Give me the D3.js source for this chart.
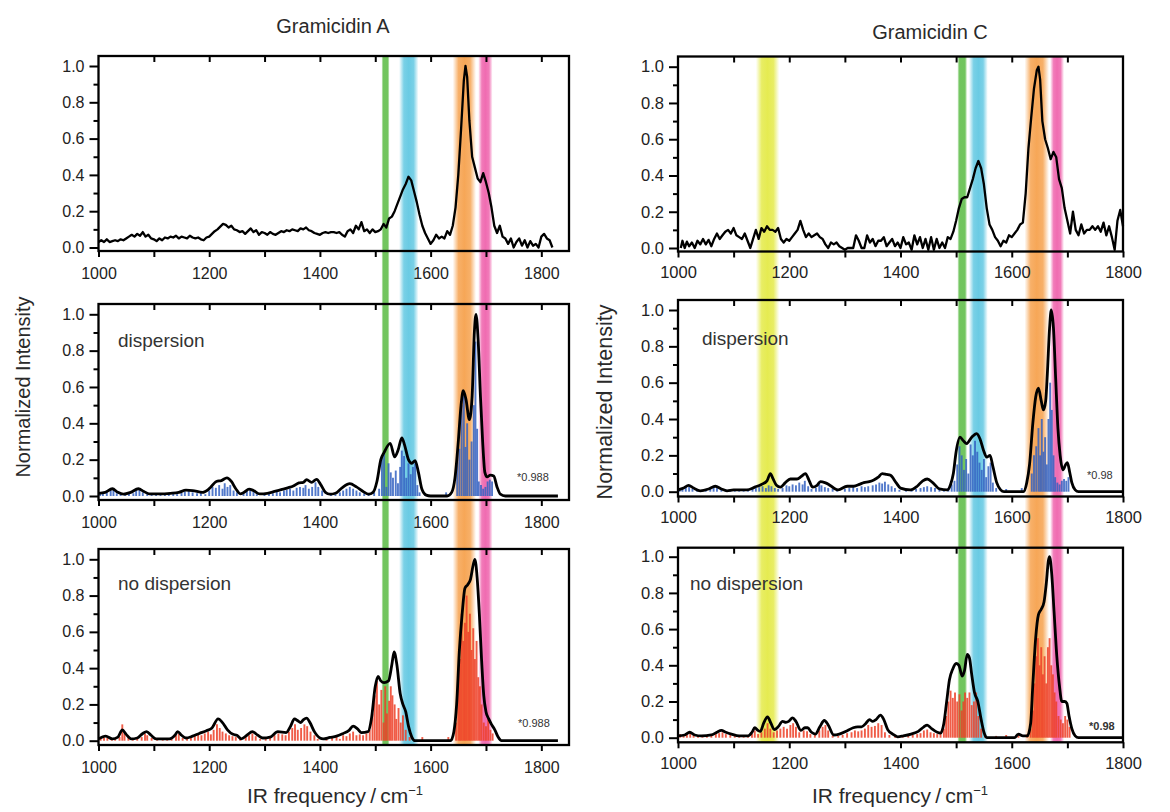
<!DOCTYPE html>
<html><head><meta charset="utf-8">
<script src="https://cdn.jsdelivr.net/npm/d3@7"></script>
<style>
body{margin:0;background:#fff}
svg{display:block}
text{font-family:"Liberation Sans",Arial,Helvetica,sans-serif}
</style>
</head><body>
<svg id="c" width="1170" height="812"></svg>
<script>
// ---------------- DATA ----------------
const titles = ["Gramicidin A", "Gramicidin C"];
const yTickValues = [0, 0.2, 0.4, 0.6, 0.8, 1.0];
const yMinorValues = [0.1, 0.3, 0.5, 0.7, 0.9];
const xTickValues = [1000, 1100, 1200, 1300, 1400, 1500, 1600, 1700, 1800];
const xLabelValues = [1000, 1200, 1400, 1600, 1800];
const panelLabels = ["", "dispersion", "no dispersion"];
const scaleNotesA = ["", "*0.988", "*0.988"];
const scaleNotesC = ["", "*0.98", "*0.98"];

// highlighted bands [from, to] in cm-1
const bandsA = [["green",1512,1525],["cyan",1543,1578],["orange",1640,1682],["pink",1686,1712]];
const bandsC = [["yellow",1140,1182],["green",1503,1519],["cyan",1523,1557],["orange",1623,1667],["pink",1669,1694]];

// Experimental spectrum, Gramicidin A
const expA = [[1000,.03],[1005,.04],[1010,.03],[1015,.045],[1020,.03],[1025,.035],[1030,.04],[1035,.035],[1040,.045],[1045,.04],[1050,.05],[1055,.06],[1060,.07],[1065,.06],[1070,.075],[1075,.065],[1080,.085],[1085,.06],[1090,.07],[1095,.05],[1100,.045],[1105,.035],[1110,.05],[1115,.04],[1120,.055],[1125,.05],[1130,.06],[1135,.055],[1140,.065],[1145,.05],[1150,.06],[1155,.055],[1160,.05],[1165,.065],[1170,.055],[1175,.05],[1180,.055],[1185,.045],[1190,.04],[1195,.055],[1200,.06],[1205,.075],[1210,.09],[1215,.1],[1220,.115],[1225,.13],[1230,.125],[1235,.11],[1240,.12],[1245,.1],[1250,.095],[1255,.085],[1260,.09],[1265,.075],[1270,.09],[1275,.105],[1280,.085],[1285,.095],[1290,.07],[1295,.085],[1300,.08],[1305,.07],[1310,.085],[1315,.075],[1320,.07],[1325,.08],[1330,.09],[1335,.085],[1340,.095],[1345,.09],[1350,.1],[1355,.095],[1360,.09],[1365,.105],[1370,.1],[1375,.11],[1380,.095],[1385,.09],[1390,.08],[1395,.075],[1400,.07],[1405,.08],[1410,.085],[1415,.08],[1420,.085],[1425,.085],[1430,.08],[1435,.085],[1440,.07],[1445,.06],[1450,.09],[1455,.1],[1460,.08],[1465,.12],[1470,.1],[1475,.14],[1480,.09],[1485,.1],[1490,.08],[1495,.1],[1500,.085],[1505,.09],[1510,.1],[1515,.13],[1520,.11],[1525,.16],[1530,.17],[1535,.2],[1540,.24],[1545,.28],[1550,.32],[1555,.35],[1560,.39],[1565,.37],[1570,.31],[1575,.25],[1580,.18],[1585,.12],[1590,.08],[1595,.05],[1600,.02],[1605,.04],[1610,.07],[1615,.05],[1620,.06],[1625,.05],[1630,.09],[1635,.07],[1640,.12],[1645,.22],[1650,.4],[1655,.65],[1660,.92],[1663,1.0],[1666,.94],[1670,.7],[1675,.5],[1680,.44],[1685,.38],[1690,.36],[1695,.41],[1700,.36],[1705,.3],[1710,.22],[1715,.12],[1720,.08],[1725,.12],[1730,.06],[1735,.05],[1740,.02],[1745,.05],[1750,0],[1755,.03],[1760,.05],[1765,.01],[1770,.04],[1775,0],[1780,.035],[1785,.01],[1790,.02],[1795,0],[1800,.06],[1805,.075],[1810,.05],[1815,.04],[1820,0]];

// Computed spectrum with dispersion, Gramicidin A
const dispA = [[1000,.015],[1012,.02],[1025,.04],[1035,.02],[1045,.01],[1058,.02],[1072,.04],[1082,.025],[1092,.012],[1110,.012],[1130,.015],[1145,.02],[1158,.032],[1170,.03],[1188,.02],[1200,.04],[1213,.08],[1222,.085],[1232,.1],[1240,.08],[1248,.04],[1256,.012],[1263,.02],[1272,.038],[1280,.03],[1291,.012],[1305,.015],[1318,.025],[1330,.035],[1342,.045],[1352,.055],[1362,.072],[1370,.075],[1376,.09],[1385,.075],[1394,.092],[1402,.06],[1410,.02],[1418,.01],[1428,.015],[1440,.045],[1454,.068],[1466,.05],[1478,.025],[1488,.01],[1496,.02],[1503,.08],[1510,.2],[1516,.24],[1527,.29],[1535,.215],[1541,.25],[1548,.32],[1553,.28],[1560,.2],[1566,.18],[1572,.195],[1578,.13],[1584,.04],[1592,.005],[1600,0],[1630,0],[1638,.02],[1644,.1],[1650,.3],[1655,.5],[1659,.58],[1664,.53],[1670,.42],[1675,.55],[1679,.9],[1682,1.0],[1686,.85],[1690,.55],[1694,.3],[1698,.13],[1702,.105],[1708,.115],[1714,.11],[1720,.05],[1726,.01],[1735,0],[1830,0]];
const sticksDispA = [[1003,.02],[1008,.015],[1015,.02],[1022,.03],[1027,.035],[1033,.015],[1040,.01],[1048,.015],[1055,.02],[1063,.015],[1068,.03],[1074,.035],[1080,.02],[1088,.01],[1096,.012],[1104,.01],[1112,.015],[1120,.01],[1127,.012],[1135,.015],[1142,.01],[1150,.018],[1156,.025],[1163,.03],[1170,.02],[1178,.015],[1185,.02],[1193,.01],[1200,.03],[1206,.05],[1212,.045],[1218,.06],[1224,.04],[1228,.07],[1233,.05],[1238,.06],[1244,.03],[1250,.02],[1262,.02],[1268,.03],[1274,.035],[1280,.025],[1286,.01],[1300,.015],[1308,.02],[1315,.015],[1322,.025],[1328,.02],[1335,.03],[1340,.035],[1346,.04],[1352,.03],[1358,.045],[1364,.05],[1370,.045],[1374,.06],[1380,.04],[1386,.05],[1392,.075],[1397,.05],[1404,.03],[1420,.015],[1428,.01],[1436,.02],[1442,.03],[1448,.04],[1454,.05],[1460,.04],[1466,.03],[1472,.02],[1480,.015],[1488,.01],[1498,.02],[1507,.04],[1512,.22],[1516,.24],[1520,.05],[1524,.18],[1528,.13],[1532,.1],[1537,.14],[1541,.07],[1545,.16],[1548,.25],[1552,.22],[1556,.1],[1560,.18],[1564,.12],[1568,.16],[1572,.18],[1576,.06],[1580,.02],[1590,.015],[1628,.02],[1648,.2],[1652,.26],[1656,.5],[1660,.55],[1663,.27],[1666,.4],[1670,.2],[1674,.3],[1678,.5],[1681,.85],[1684,.37],[1687,.08],[1691,.06],[1695,.04],[1699,.05],[1703,.08],[1707,.09],[1711,.08]];

// Computed spectrum without dispersion, Gramicidin A
const noDispA = [[1000,.01],[1013,.025],[1025,.01],[1035,.02],[1043,.06],[1050,.035],[1059,.01],[1070,.015],[1080,.04],[1087,.05],[1095,.03],[1104,.01],[1128,.01],[1138,.03],[1143,.05],[1150,.03],[1158,.015],[1170,.025],[1182,.04],[1195,.055],[1205,.07],[1216,.12],[1224,.1],[1233,.06],[1243,.035],[1250,.03],[1258,.01],[1268,.03],[1278,.05],[1288,.03],[1297,.015],[1310,.02],[1324,.05],[1339,.045],[1347,.08],[1354,.12],[1360,.11],[1365,.1],[1370,.115],[1376,.125],[1382,.1],[1390,.05],[1400,.015],[1406,.01],[1418,.018],[1430,.025],[1442,.04],[1452,.055],[1460,.08],[1468,.065],[1475,.045],[1487,.05],[1493,.12],[1500,.3],[1505,.355],[1510,.33],[1516,.32],[1524,.33],[1530,.42],[1534,.49],[1539,.42],[1545,.26],[1550,.2],[1555,.16],[1560,.08],[1566,.02],[1572,0],[1636,0],[1642,.05],[1647,.2],[1652,.5],[1657,.7],[1662,.84],[1667,.86],[1672,.89],[1677,.97],[1680,1.0],[1684,.9],[1688,.7],[1692,.45],[1696,.25],[1700,.16],[1705,.12],[1710,.09],[1716,.06],[1722,.02],[1728,0],[1830,0]];
const sticksNoDispA = [[1004,.02],[1010,.015],[1016,.025],[1024,.01],[1030,.015],[1038,.02],[1043,.09],[1047,.04],[1054,.02],[1062,.01],[1070,.015],[1078,.02],[1084,.04],[1088,.03],[1096,.015],[1106,.01],[1116,.012],[1124,.01],[1132,.015],[1140,.03],[1145,.04],[1152,.015],[1160,.02],[1167,.025],[1174,.03],[1180,.035],[1186,.03],[1192,.04],[1198,.05],[1203,.035],[1208,.06],[1214,.09],[1219,.07],[1224,.05],[1230,.04],[1236,.03],[1242,.025],[1248,.02],[1256,.01],[1266,.02],[1272,.03],[1278,.04],[1284,.025],[1292,.01],[1302,.015],[1310,.02],[1318,.03],[1325,.04],[1332,.035],[1338,.03],[1344,.05],[1350,.07],[1355,.09],[1360,.06],[1366,.07],[1372,.09],[1377,.08],[1383,.05],[1390,.03],[1396,.01],[1412,.01],[1422,.015],[1430,.02],[1436,.01],[1442,.03],[1448,.025],[1454,.04],[1460,.05],[1466,.03],[1472,.035],[1478,.03],[1484,.04],[1490,.06],[1495,.15],[1499,.25],[1503,.33],[1507,.2],[1511,.28],[1515,.1],[1518,.3],[1521,.15],[1525,.22],[1528,.3],[1531,.25],[1535,.2],[1538,.12],[1542,.18],[1546,.1],[1550,.14],[1555,.06],[1562,.02],[1585,.02],[1632,.02],[1646,.1],[1650,.3],[1653,.45],[1656,.7],[1659,.55],[1662,.65],[1665,.8],[1668,.6],[1671,.7],[1674,.5],[1677,.62],[1680,.45],[1683,.55],[1686,.35],[1689,.3],[1692,.2],[1696,.1],[1700,.08],[1704,.12],[1708,.06],[1712,.04]];

// Experimental spectrum, Gramicidin C
const expC = [[1005,0],[1008,.04],[1012,0],[1016,.035],[1020,.01],[1025,.03],[1030,0],[1035,.04],[1040,.02],[1045,.05],[1050,.02],[1055,.045],[1060,.01],[1065,.05],[1070,.08],[1075,.05],[1080,.07],[1085,.09],[1090,.1],[1095,.08],[1100,.11],[1105,.07],[1110,.06],[1115,.05],[1120,.08],[1125,.04],[1130,0],[1135,.05],[1140,.1],[1145,.05],[1150,.11],[1155,.09],[1160,.12],[1165,.1],[1170,.1],[1175,.09],[1180,.11],[1185,.05],[1190,.03],[1195,.05],[1200,.04],[1205,.06],[1210,.08],[1215,.1],[1220,.15],[1225,.1],[1230,.06],[1235,.08],[1240,.06],[1245,.07],[1250,.08],[1255,.06],[1260,.05],[1265,.02],[1270,0],[1275,.03],[1280,.02],[1285,.03],[1290,.01],[1295,0],[1300,-.01],[1305,0],[1310,0],[1315,0],[1320,.07],[1325,.04],[1330,0],[1335,0],[1340,.07],[1345,.03],[1350,.05],[1355,.01],[1360,.04],[1365,.04],[1370,.06],[1375,.01],[1380,.03],[1385,.05],[1390,.01],[1395,.03],[1400,0],[1405,.06],[1410,.02],[1415,.03],[1420,-.01],[1425,.07],[1430,.02],[1435,.06],[1440,0],[1445,.05],[1450,-.01],[1455,.06],[1460,-.01],[1465,.05],[1470,0],[1475,.03],[1480,0],[1485,.06],[1490,.05],[1495,.09],[1500,.15],[1505,.22],[1510,.27],[1515,.28],[1520,.28],[1525,.33],[1530,.38],[1535,.44],[1540,.48],[1545,.44],[1550,.35],[1555,.22],[1560,.13],[1565,.1],[1570,.06],[1575,.04],[1580,.01],[1585,.04],[1590,.03],[1595,.07],[1600,.06],[1605,.08],[1610,.1],[1615,.13],[1620,.14],[1625,.3],[1630,.55],[1635,.72],[1640,.88],[1645,.98],[1648,1.0],[1651,.93],[1655,.7],[1660,.6],[1665,.55],[1670,.49],[1675,.53],[1680,.5],[1685,.38],[1690,.33],[1695,.22],[1700,.15],[1705,.08],[1710,.2],[1715,.1],[1720,.07],[1725,.13],[1730,.08],[1735,.1],[1740,.1],[1745,.12],[1750,.1],[1755,.12],[1760,.09],[1765,.14],[1770,.07],[1775,.12],[1780,.06],[1785,-.01],[1790,.15],[1795,.21],[1800,.12]];

// Computed spectrum with dispersion, Gramicidin C
const dispC = [[1000,.01],[1010,.02],[1019,.035],[1028,.02],[1040,.005],[1055,.015],[1067,.03],[1078,.015],[1088,.005],[1100,.01],[1124,.01],[1138,.025],[1150,.04],[1160,.06],[1166,.1],[1171,.07],[1177,.035],[1184,.025],[1193,.05],[1202,.07],[1214,.07],[1222,.085],[1229,.1],[1236,.06],[1242,.025],[1250,.035],[1256,.055],[1264,.05],[1271,.04],[1280,.02],[1288,.01],[1304,.03],[1316,.03],[1326,.04],[1334,.05],[1344,.055],[1352,.065],[1360,.08],[1367,.1],[1375,.095],[1382,.09],[1392,.05],[1400,.02],[1418,.01],[1430,.03],[1440,.06],[1448,.07],[1458,.05],[1470,.015],[1484,.01],[1490,.04],[1495,.1],[1500,.22],[1507,.3],[1513,.28],[1519,.265],[1528,.3],[1537,.32],[1543,.29],[1549,.23],[1555,.19],[1561,.2],[1566,.14],[1573,.05],[1580,.01],[1586,0],[1621,0],[1627,.05],[1632,.15],[1638,.38],[1643,.52],[1648,.57],[1653,.5],[1657,.45],[1661,.5],[1664,.65],[1668,.9],[1671,1.0],[1675,.9],[1679,.62],[1683,.35],[1687,.2],[1692,.12],[1697,.15],[1700,.16],[1704,.11],[1708,.05],[1714,.01],[1720,0],[1800,0]];
const sticksDispC = [[1003,.01],[1008,.02],[1014,.025],[1020,.03],[1026,.015],[1034,.01],[1042,.005],[1050,.01],[1058,.015],[1064,.025],[1070,.02],[1078,.01],[1086,.012],[1094,.008],[1102,.01],[1110,.012],[1118,.008],[1126,.012],[1134,.015],[1140,.02],[1146,.025],[1152,.03],[1158,.02],[1163,.035],[1168,.03],[1174,.02],[1180,.015],[1188,.02],[1195,.035],[1200,.03],[1206,.04],[1212,.035],[1218,.05],[1224,.04],[1228,.06],[1234,.03],[1240,.015],[1248,.02],[1254,.04],[1258,.035],[1264,.025],[1270,.02],[1278,.015],[1286,.008],[1300,.015],[1308,.02],[1315,.025],[1322,.02],[1330,.03],[1336,.025],[1342,.03],[1350,.035],[1356,.04],[1362,.05],[1367,.045],[1372,.055],[1378,.04],[1384,.03],[1390,.02],[1398,.01],[1410,.008],[1420,.01],[1428,.015],[1436,.02],[1442,.025],[1448,.03],[1455,.025],[1462,.02],[1470,.012],[1478,.008],[1486,.02],[1492,.04],[1497,.06],[1502,.15],[1506,.25],[1510,.2],[1514,.12],[1518,.18],[1522,.1],[1526,.26],[1530,.2],[1534,.28],[1538,.22],[1542,.16],[1546,.12],[1550,.18],[1554,.08],[1558,.14],[1562,.16],[1566,.05],[1572,.02],[1590,.015],[1618,.02],[1636,.1],[1640,.2],[1644,.25],[1648,.35],[1651,.2],[1654,.4],[1657,.22],[1660,.3],[1663,.15],[1666,.4],[1669,.6],[1672,.45],[1675,.2],[1678,.08],[1682,.05],[1686,.04],[1690,.06],[1694,.07],[1698,.06],[1702,.08]];

// Computed spectrum without dispersion, Gramicidin C
const noDispC = [[1000,.01],[1012,.015],[1021,.03],[1030,.015],[1042,.01],[1060,.015],[1070,.03],[1078,.04],[1086,.03],[1096,.02],[1110,.01],[1126,.01],[1133,.03],[1138,.055],[1144,.04],[1148,.035],[1154,.08],[1161,.115],[1167,.08],[1173,.045],[1180,.06],[1188,.09],[1194,.085],[1199,.09],[1206,.11],[1212,.09],[1221,.04],[1228,.055],[1233,.055],[1240,.03],[1247,.02],[1255,.06],[1263,.095],[1270,.07],[1280,.015],[1290,.02],[1305,.04],[1315,.055],[1323,.06],[1330,.06],[1338,.08],[1344,.1],[1350,.09],[1356,.1],[1364,.125],[1370,.1],[1377,.045],[1386,.02],[1395,.005],[1405,.01],[1419,.02],[1432,.035],[1442,.06],[1448,.07],[1456,.05],[1466,.03],[1472,.025],[1478,.08],[1483,.2],[1488,.32],[1494,.38],[1500,.41],[1505,.4],[1511,.34],[1515,.37],[1520,.46],[1524,.44],[1528,.35],[1533,.25],[1539,.2],[1545,.1],[1550,.03],[1556,0],[1605,0],[1612,.02],[1620,.01],[1628,.01],[1634,.08],[1638,.3],[1643,.55],[1648,.68],[1653,.71],[1658,.75],[1662,.85],[1666,.98],[1668,1.0],[1672,.9],[1676,.7],[1681,.45],[1686,.28],[1690,.2],[1695,.2],[1699,.19],[1703,.12],[1708,.05],[1714,.01],[1720,0],[1800,0]];
const sticksNoDispC = [[1004,.02],[1010,.015],[1016,.02],[1022,.03],[1028,.015],[1036,.01],[1044,.012],[1052,.01],[1060,.015],[1068,.02],[1074,.025],[1080,.03],[1086,.02],[1094,.015],[1102,.01],[1110,.012],[1118,.01],[1126,.015],[1133,.02],[1138,.04],[1144,.02],[1150,.03],[1156,.05],[1161,.08],[1166,.05],[1172,.03],[1178,.04],[1184,.05],[1190,.06],[1196,.05],[1202,.07],[1207,.08],[1212,.06],[1218,.03],[1226,.04],[1232,.035],[1238,.02],[1246,.015],[1254,.04],[1260,.06],[1265,.07],[1270,.04],[1278,.012],[1288,.01],[1296,.015],[1304,.025],[1312,.03],[1318,.04],[1324,.035],[1330,.04],[1336,.05],[1342,.07],[1348,.06],[1354,.065],[1360,.08],[1366,.07],[1372,.03],[1380,.015],[1390,.008],[1404,.008],[1414,.012],[1422,.015],[1430,.02],[1436,.025],[1442,.04],[1448,.045],[1454,.03],[1460,.025],[1466,.02],[1472,.02],[1478,.05],[1482,.12],[1486,.2],[1490,.26],[1494,.22],[1498,.25],[1502,.2],[1506,.24],[1510,.15],[1513,.2],[1516,.25],[1520,.22],[1524,.25],[1528,.18],[1532,.2],[1536,.25],[1540,.12],[1545,.05],[1552,.02],[1572,.01],[1590,.015],[1612,.02],[1628,.02],[1634,.05],[1638,.15],[1641,.3],[1644,.45],[1647,.55],[1650,.4],[1653,.5],[1656,.35],[1659,.45],[1662,.3],[1665,.5],[1668,.55],[1671,.4],[1674,.35],[1677,.25],[1680,.2],[1684,.12],[1688,.1],[1692,.08],[1696,.12],[1700,.1],[1704,.06]];

// ---------------- STYLE / LAYOUT ----------------
const bandColors = {green:"#6ac256", cyan:"#62c8e2", orange:"#f6a24e", pink:"#ef64ad", yellow:"#e4ea48"};
const stickBlue = "#3462c2";
const stickRed = "#ee4028";

const columns = [
  { title: titles[0], titleX: 333, titleY: 33, xDomain: [1000,1850], xRange: [98.5,569], bands: bandsA,
    ylabX: 30, ylabY: 387, ylabSize: 20, xlabX: 335, xlabSize: 21, tickFont: 16, notes: scaleNotesA, noteBold: [false,false,false],
    panels: [
      { fTop: 56, fBot: 251, y0: 247.5, y1: 66, curve: expA, smooth: false, lw: 2.3, sticks: null },
      { fTop: 304, fBot: 500, y0: 496, y1: 314.3, curve: dispA, smooth: true, lw: 2.8, sticks: sticksDispA, stickColor: stickBlue, labelX: 118, labelY: 347, noteX: 517, noteY: 481 },
      { fTop: 549, fBot: 745, y0: 740.7, y1: 559.3, curve: noDispA, smooth: true, lw: 2.8, sticks: sticksNoDispA, stickColor: stickRed, labelX: 118, labelY: 590, noteX: 518, noteY: 727 }
    ] },
  { title: titles[1], titleX: 930, titleY: 39, xDomain: [1000,1800], xRange: [678,1123], bands: bandsC,
    ylabX: 612, ylabY: 402, ylabSize: 21.5, xlabX: 900, xlabSize: 21, tickFont: 16.5, notes: scaleNotesC, noteBold: [false,false,true],
    panels: [
      { fTop: 56.5, fBot: 251.5, y0: 248, y1: 66.7, curve: expC, smooth: false, lw: 2.3, sticks: null },
      { fTop: 300, fBot: 496.5, y0: 491.7, y1: 310, curve: dispC, smooth: true, lw: 2.8, sticks: sticksDispC, stickColor: stickBlue, labelX: 702, labelY: 345, noteX: 1087, noteY: 479 },
      { fTop: 547.7, fBot: 742.3, y0: 737.7, y1: 556.7, curve: noDispC, smooth: true, lw: 2.8, sticks: sticksNoDispC, stickColor: stickRed, labelX: 690, labelY: 590, noteX: 1089, noteY: 730 }
    ] }
];

// ---------------- DRAW ----------------
const svg = d3.select("#c");
svg.append("rect").attr("width",1170).attr("height",812).attr("fill","#fff");
const defs = svg.append("defs");
Object.entries(bandColors).forEach(([k,c]) => {
  const g = defs.append("linearGradient").attr("id","g-"+k);
  const stops = k === "green" ? [[0,.35],[0.2,.95],[0.8,.95],[1,.35]] : [[0,0],[0.25,.85],[0.5,.95],[0.75,.85],[1,0]];
  stops.forEach(([o,a]) => g.append("stop").attr("offset",o).attr("stop-color",c).attr("stop-opacity",a));
});

columns.forEach((col, ci) => {
  const x = d3.scaleLinear().domain(col.xDomain).range(col.xRange);
  const top = col.panels[0].fTop, bot = col.panels[2].fBot;

  svg.append("g").selectAll("rect").data(col.bands).join("rect")
    .attr("x", d => x(d[1])).attr("width", d => x(d[2]) - x(d[1]))
    .attr("y", top).attr("height", bot - top)
    .attr("fill", d => `url(#g-${d[0]})`);

  svg.append("text").attr("x", col.titleX).attr("y", col.titleY).attr("text-anchor","middle")
    .attr("font-size", 20).attr("fill","#2a2a2a").text(col.title);

  col.panels.forEach((p, pi) => {
    const y = d3.scaleLinear().domain([0,1]).range([p.y0, p.y1]);
    const g = svg.append("g");

    if (p.sticks) {
      g.append("g").selectAll("line").data(p.sticks).join("line")
        .attr("x1", d => x(d[0])).attr("x2", d => x(d[0]))
        .attr("y1", y(0)).attr("y2", d => y(d[1]))
        .attr("stroke", p.stickColor).attr("stroke-width", 1.9).attr("opacity", 0.85);
    }

    const line = d3.line().x(d => x(d[0])).y(d => y(d[1]))
      .curve(p.smooth ? d3.curveMonotoneX : d3.curveLinear);
    g.append("path").datum(p.curve).attr("d", line)
      .attr("fill","none").attr("stroke","#000").attr("stroke-width", p.lw)
      .attr("stroke-linejoin","round");

    g.append("rect").attr("x", col.xRange[0]).attr("y", p.fTop)
      .attr("width", col.xRange[1] - col.xRange[0]).attr("height", p.fBot - p.fTop)
      .attr("fill","none").attr("stroke","#000").attr("stroke-width", 2.3);

    const ya = g.append("g").attr("transform", `translate(${col.xRange[0]},0)`)
      .call(d3.axisLeft(y).tickValues(yTickValues).tickFormat(d3.format(".1f")).tickSize(9).tickPadding(5));
    ya.select(".domain").remove();
    ya.selectAll("line").attr("stroke-width", 2);
    ya.selectAll("text").attr("font-size", col.tickFont).attr("fill","#222").attr("font-family",'"Liberation Sans",Arial,sans-serif');
    const ym = g.append("g").attr("transform", `translate(${col.xRange[0]},0)`)
      .call(d3.axisLeft(y).tickValues(yMinorValues).tickFormat("").tickSize(5));
    ym.select(".domain").remove();
    ym.selectAll("line").attr("stroke-width", 2);

    const xt = xTickValues.filter(v => v >= col.xDomain[0] && v <= col.xDomain[1]);
    const xb = g.append("g").attr("transform", `translate(0,${p.fBot})`)
      .call(d3.axisBottom(x).tickValues(xt).tickFormat(d => xLabelValues.includes(d) ? d : "").tickSize(6).tickPadding(ci === 0 ? 11 : 9));
    xb.select(".domain").remove();
    xb.selectAll("line").attr("stroke-width", 2);
    xb.selectAll("text").attr("font-size", col.tickFont).attr("fill","#222").attr("font-family",'"Liberation Sans",Arial,sans-serif');

    const xtop = g.append("g").attr("transform", `translate(0,${p.fTop})`)
      .call(d3.axisTop(x).tickValues(xt.filter(v => v > col.xDomain[0] && v < col.xDomain[1])).tickFormat("").tickSize(-6));
    xtop.select(".domain").remove();
    xtop.selectAll("line").attr("stroke-width", 2);

    if (panelLabels[pi]) {
      g.append("text").attr("x", p.labelX).attr("y", p.labelY).attr("font-size", 19)
        .attr("fill","#333").text(panelLabels[pi]);
    }
    if (col.notes[pi]) {
      g.append("text").attr("x", p.noteX).attr("y", p.noteY).attr("font-size", 11)
        .attr("font-weight", col.noteBold[pi] ? "bold" : "normal")
        .attr("fill","#333").text(col.notes[pi]);
    }
  });

  svg.append("text").attr("transform", `translate(${col.ylabX},${col.ylabY}) rotate(-90)`)
    .attr("text-anchor","middle").attr("font-size", col.ylabSize).attr("fill","#2a2a2a")
    .text("Normalized Intensity");

  const xl = svg.append("text").attr("x", col.xlabX).attr("y", 803).attr("text-anchor","middle")
    .attr("font-size", col.xlabSize).attr("fill","#2a2a2a");
  xl.append("tspan").text("IR frequency\u2009/\u2009cm");
  xl.append("tspan").attr("dy", -8).attr("font-size", col.xlabSize * 0.62).text("\u22121");
});
</script>
</body></html>
